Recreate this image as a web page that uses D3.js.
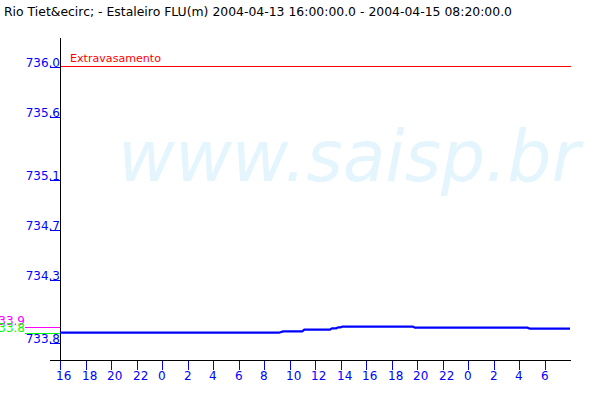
<!DOCTYPE html>
<html>
<head>
<meta charset="utf-8">
<script src="https://cdn.jsdelivr.net/npm/d3@7"></script>
<style>
  html, body { margin: 0; padding: 0; background: #fff; }
  svg { display: block; }
  text { font-family: "DejaVu Sans", sans-serif; }
</style>
</head>
<body>
<svg id="chart" width="600" height="400"></svg>
<script>
// ---- data ----
const title = "Rio Tiet&ecirc; - Estaleiro FLU(m) 2004-04-13 16:00:00.0 - 2004-04-15 08:20:00.0";
const watermark = "www.saisp.br";
const yTickValues = [736.0, 735.6, 735.1, 734.7, 734.3, 733.8];
const yDomain = [733.8, 736.0];
const xStart = "2004-04-13 16:00";
const xEnd = "2004-04-15 08:00";
const readingTimes = [
  "2004-04-13 16:00", "2004-04-13 20:00", "2004-04-14 00:00", "2004-04-14 04:00",
  "2004-04-14 08:00", "2004-04-14 09:10", "2004-04-14 09:30", "2004-04-14 11:00",
  "2004-04-14 11:10", "2004-04-14 13:10", "2004-04-14 13:20", "2004-04-14 13:40",
  "2004-04-14 13:50", "2004-04-14 14:00", "2004-04-14 14:10", "2004-04-14 16:00",
  "2004-04-14 19:40", "2004-04-14 19:50", "2004-04-14 22:00", "2004-04-15 02:00",
  "2004-04-15 04:40", "2004-04-15 04:50", "2004-04-15 08:00"
];
const readingLevels = [
  733.882, 733.882, 733.882, 733.882,
  733.882, 733.882, 733.893, 733.893,
  733.906, 733.906, 733.917, 733.917,
  733.925, 733.925, 733.931, 733.931,
  733.931, 733.922, 733.922, 733.922,
  733.922, 733.914, 733.914
];
const overflowLevel = 736.0;
const overflowLabel = "Extravasamento";
const maxLevel = 733.925, maxLabel = "733.9";
const minLevel = 733.882, minLabel = "733.8";

// ---- chart ----
const svg = d3.select("#chart");
const parse = d3.timeParse("%Y-%m-%d %H:%M");

const x = d3.scaleTime().domain([parse(xStart), parse(xEnd)]).range([60, 570]);
const y = d3.scaleLinear().domain(yDomain).range([343, 67]);

const blue = "#0000ff";

// title
svg.append("text").attr("x", 4).attr("y", 16)
  .attr("font-size", 12).attr("fill", "#000")
  .attr("textLength", 508).attr("lengthAdjust", "spacingAndGlyphs")
  .text(title);

// watermark
svg.append("text").attr("x", 118).attr("y", 181)
  .attr("font-size", 72).attr("font-style", "italic").attr("fill", "#e4f5fd")
  .attr("textLength", 462).attr("lengthAdjust", "spacingAndGlyphs")
  .text(watermark);

// axes lines
svg.append("line").attr("x1", 60.5).attr("x2", 60.5).attr("y1", 38).attr("y2", 360)
  .attr("stroke", "#000").attr("shape-rendering", "crispEdges");
svg.append("line").attr("x1", 50).attr("x2", 571).attr("y1", 360.5).attr("y2", 360.5)
  .attr("stroke", "#000").attr("shape-rendering", "crispEdges");

// overflow line
const yOv = Math.round(y(overflowLevel)) - 0.5;
svg.append("line")
  .attr("x1", 61).attr("x2", 571)
  .attr("y1", yOv).attr("y2", yOv)
  .attr("stroke", "#ff0000").attr("stroke-width", 1.2).attr("shape-rendering", "crispEdges");
svg.append("text").attr("x", 70).attr("y", 62)
  .attr("font-size", 11).attr("fill", "#ff0000")
  .attr("textLength", 91).attr("lengthAdjust", "spacingAndGlyphs")
  .text(overflowLabel);

// y ticks
const yt = svg.append("g");
yTickValues.forEach(v => {
  const py = Math.round(y(v));
  yt.append("line").attr("x1", 50).attr("x2", 60).attr("y1", py + 0.5).attr("y2", py + 0.5)
    .attr("stroke", blue).attr("shape-rendering", "crispEdges");
  yt.append("text").attr("x", 60).attr("y", py).attr("text-anchor", "end")
    .attr("font-size", 12).attr("fill", blue)
    .text(d3.format(".1f")(v));
});

// x ticks
const xTicks = x.ticks(d3.timeHour.every(2)).filter(t => t < parse(xEnd));
const fmt = d3.timeFormat("%-H");
const xt = svg.append("g");
xTicks.forEach(t => {
  const px = Math.round(x(t));
  xt.append("line").attr("x1", px + 0.5).attr("x2", px + 0.5).attr("y1", 361).attr("y2", 370)
    .attr("stroke", blue).attr("shape-rendering", "crispEdges");
  xt.append("text").attr("x", px - 4).attr("y", 380)
    .attr("font-size", 12).attr("fill", blue)
    .text(fmt(t));
});

// min / max markers
const yMax = Math.round(y(maxLevel)) + 0.5;
const yMin = Math.round(y(minLevel)) + 0.5;
svg.append("line").attr("x1", 25).attr("x2", 60).attr("y1", yMax).attr("y2", yMax)
  .attr("stroke", "#ff00ff").attr("shape-rendering", "crispEdges");
svg.append("text").attr("x", 25).attr("y", yMax - 2.5).attr("text-anchor", "end")
  .attr("font-size", 12).attr("fill", "#ff00ff").text(maxLabel);
svg.append("line").attr("x1", 25).attr("x2", 60).attr("y1", yMin).attr("y2", yMin)
  .attr("stroke", "#00ff00").attr("shape-rendering", "crispEdges");
svg.append("text").attr("x", 25).attr("y", yMin - 1.5).attr("text-anchor", "end")
  .attr("font-size", 12).attr("fill", "#00ff00").text(minLabel);

// data line
const data = readingTimes.map((t, i) => ({ t: parse(t), v: readingLevels[i] }));
svg.append("path").datum(data)
  .attr("fill", "none").attr("stroke", blue).attr("stroke-width", 2.2)
  .attr("d", d3.line().x(d => x(d.t)).y(d => y(d.v)));
</script>
</body>
</html>
